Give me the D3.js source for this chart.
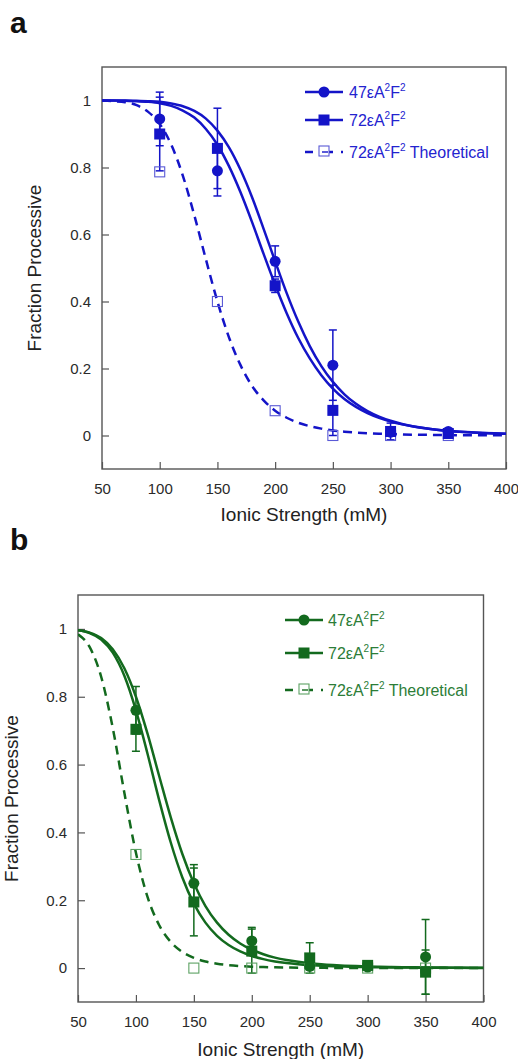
<!DOCTYPE html>
<html>
<head>
<meta charset="utf-8">
<script src="https://cdn.jsdelivr.net/npm/d3@7"></script>
<style>
body { margin: 0; background: #fff; }
text { font-family: Arial, "Liberation Sans", sans-serif; }
</style>
</head>
<body>
<svg class="canvas"></svg>
<script>

// measured ionic strengths (mM)
var ionic = [100, 150, 200, 250, 300, 350];

// panel a (blue)
var a47 = [0.945, 0.79, 0.52, 0.21, 0.01, 0.012];
var a47Err = [0.08, 0.075, 0.046, 0.105, 0.01, 0.008];
var a72 = [0.90, 0.857, 0.447, 0.075, 0.012, 0.006];
var a72Err = [0.11, 0.12, 0.02, 0.075, 0.025, 0.01];
var a72Theo = [0.787, 0.40, 0.074, 0.0, 0.0, 0.0];

// panel b (green)
var b47 = [0.76, 0.25, 0.08, 0.005, 0.003, 0.033];
var b47Err = [0.07, 0.055, 0.04, 0.01, 0.005, 0.11];
var b72 = [0.704, 0.195, 0.05, 0.03, 0.008, -0.012];
var b72Err = [0.065, 0.1, 0.065, 0.045, 0.008, 0.065];
var b72Theo = [0.335, 0.0, 0.0, 0.0, 0.0, 0.0];

// fitted curves, every 10 mM
var fitX = [50,60,70,80,90,100,110,120,130,140,150,160,170,180,190,200,210,220,
	230,240,250,260,270,280,290,300,310,320,330,340,350,360,370,380,390,400];

var a47Fit = [1,1,1,0.999,0.998,0.996,0.991,0.983,0.969,0.946,0.910,0.860,0.793,0.711,0.617,0.520,0.425,0.340,
	0.267,0.207,0.160,0.123,0.0945,0.0729,0.0564,0.0439,0.0344,0.027,0.0214,0.0171,0.0136,0.011,0.0089,0.0072,0.0059,0.0049];
var a72Fit = [1,1,0.999,0.998,0.996,0.992,0.984,0.970,0.949,0.915,0.868,0.804,0.726,0.637,0.542,0.450,0.365,0.291,
	0.230,0.180,0.140,0.109,0.0854,0.067,0.0527,0.0418,0.0332,0.0266,0.0214,0.0173,0.0141,0.0115,0.0095,0.0078,0.0065,0.0054];
var a72TheoFit = [1,0.998,0.995,0.986,0.966,0.930,0.868,0.776,0.657,0.526,0.400,0.293,0.210,0.148,0.105,0.0742,0.053,0.0382,
	0.0278,0.0205,0.0152,0.0115,0.0087,0.0067,0.0052,0.004,0.0032,0.0025,0.002,0.0016,0.0013,0.001,0.0009,0.0007,0.0006,0.0005];

var b47Fit = [0.996,0.989,0.973,0.940,0.884,0.800,0.691,0.567,0.445,0.337,0.250,0.183,0.134,0.0983,0.0726,0.0541,0.0407,0.0309,
	0.0237,0.0184,0.0143,0.0113,0.009,0.0072,0.0058,0.0047,0.0039,0.0032,0.0026,0.0022,0.0018,0.0015,0.0013,0.0011,0.0009,0.0008];
var b72Fit = [0.996,0.988,0.969,0.930,0.862,0.760,0.632,0.496,0.371,0.268,0.190,0.134,0.0951,0.0679,0.049,0.0357,0.0264,0.0197,
	0.0149,0.0114,0.0088,0.0068,0.0054,0.0043,0.0034,0.0028,0.0022,0.0018,0.0015,0.0013,0.0011,0.0009,0.0008,0.0007,0.0006,0.0005];
var b72TheoFit = [0.984,0.947,0.859,0.708,0.517,0.340,0.210,0.127,0.0773,0.0477,0.0301,0.0195,0.0129,0.0087,0.006,0.0042,0.003,0.0022,
	0.0017,0.0012,0.0009,0.0007,0.0005,0.0004,0.0003,0.0003,0.0002,0.0002,0.0002,0.0001,0.0001,0.0001,0.0001,0.0001,0.0001,0.0001];

var xTicks = [50, 100, 150, 200, 250, 300, 350, 400];
var yTicks = [0, 0.2, 0.4, 0.6, 0.8, 1];

var seriesNames = ["47", "72", "72"];

var width = 518,
	height = 1059;

var svg = d3.select(".canvas")
	.attr("width", width)
	.attr("height", height);

var panels = [
	{ id: "a", labelY: 33, left: 102, right: 506, top: 67, bottom: 469,
		color: "#1414c8", textColor: "#2323cf", openColor: "#5a5ad6",
		yTitleX: 41, xTitleY: 521,
		legX: 305, legTextX: 349, legRows: [92, 120, 152],
		s47: a47, e47: a47Err, s72: a72, e72: a72Err, theo: a72Theo,
		f47: a47Fit, f72: a72Fit, fTheo: a72TheoFit },
	{ id: "b", labelY: 550, left: 78, right: 483.5, top: 595, bottom: 1002,
		color: "#136a1e", textColor: "#2c7d37", openColor: "#5da264",
		yTitleX: 18, xTitleY: 1056,
		legX: 285, legTextX: 328, legRows: [620, 653, 690],
		s47: b47, e47: b47Err, s72: b72, e72: b72Err, theo: b72Theo,
		f47: b47Fit, f72: b72Fit, fTheo: b72TheoFit }
];

panels.forEach(drawPanel);

function drawPanel(p) {
	var g = svg.append("g");

	var x = d3.scaleLinear().domain([50, 400]).range([p.left, p.right]);
	var y = d3.scaleLinear().domain([-0.1, 1.1]).range([p.bottom, p.top]);

	// panel letter
	g.append("text")
		.attr("x", 10)
		.attr("y", p.labelY)
		.attr("font-size", 30)
		.attr("font-weight", "bold")
		.attr("fill", "#111")
		.text(p.id);

	// axes with inward ticks
	var xa = g.append("g")
		.attr("transform", "translate(0," + p.bottom + ")")
		.call(d3.axisBottom(x).tickValues(xTicks).tickSizeInner(-7).tickSizeOuter(0).tickPadding(14));
	var ya = g.append("g")
		.attr("transform", "translate(" + p.left + ",0)")
		.call(d3.axisLeft(y).tickValues(yTicks).tickSizeInner(-7).tickSizeOuter(0).tickPadding(11)
			.tickFormat(function(d) { return String(d); }));

	[xa, ya].forEach(function(a) {
		a.select(".domain").remove();
		a.selectAll(".tick line").attr("stroke", "#555").attr("stroke-width", 1.2);
		a.selectAll(".tick text")
			.attr("fill", "#2a2a2a")
			.attr("font-size", 15)
			.attr("font-family", "Arial, 'Liberation Sans', sans-serif");
	});

	// frame
	g.append("rect")
		.attr("x", p.left)
		.attr("y", p.top)
		.attr("width", p.right - p.left)
		.attr("height", p.bottom - p.top)
		.attr("fill", "none")
		.attr("stroke", "#555")
		.attr("stroke-width", 1.4);

	// axis titles
	g.append("text")
		.attr("x", (p.left + p.right) / 2)
		.attr("y", p.xTitleY)
		.attr("text-anchor", "middle")
		.attr("font-size", 19)
		.attr("fill", "#222")
		.text("Ionic Strength (mM)");

	g.append("text")
		.attr("transform", "translate(" + p.yTitleX + "," + ((p.top + p.bottom) / 2) + ") rotate(-90)")
		.attr("text-anchor", "middle")
		.attr("font-size", 19)
		.attr("fill", "#222")
		.text("Fraction Processive");

	// clip
	var clipId = "clip-" + p.id;
	svg.append("clipPath").attr("id", clipId)
		.append("rect")
		.attr("x", p.left)
		.attr("y", p.top)
		.attr("width", p.right - p.left)
		.attr("height", p.bottom - p.top);

	var plot = g.append("g").attr("clip-path", "url(#" + clipId + ")");

	var line = d3.line()
		.x(function(d) { return x(d[0]); })
		.y(function(d) { return y(d[1]); })
		.curve(d3.curveMonotoneX);

	var curves = [
		{ vals: p.fTheo, dash: "9,6" },
		{ vals: p.f72, dash: null },
		{ vals: p.f47, dash: null }
	];

	curves.forEach(function(c) {
		plot.append("path")
			.datum(fitX.map(function(v, i) { return [v, c.vals[i]]; }))
			.attr("d", line)
			.attr("fill", "none")
			.attr("stroke", p.color)
			.attr("stroke-width", 2.5)
			.attr("stroke-dasharray", c.dash);
	});

	// error bars
	[[p.s47, p.e47], [p.s72, p.e72]].forEach(function(se) {
		var eb = plot.selectAll(null).data(ionic).enter().append("g")
			.attr("stroke", p.color)
			.attr("stroke-width", 1.5);
		eb.append("line")
			.attr("x1", function(d) { return x(d); })
			.attr("x2", function(d) { return x(d); })
			.attr("y1", function(d, i) { return y(se[0][i] - se[1][i]); })
			.attr("y2", function(d, i) { return y(se[0][i] + se[1][i]); });
		[-1, 1].forEach(function(sgn) {
			eb.append("line")
				.attr("x1", function(d) { return x(d) - 4; })
				.attr("x2", function(d) { return x(d) + 4; })
				.attr("y1", function(d, i) { return y(se[0][i] + sgn * se[1][i]); })
				.attr("y2", function(d, i) { return y(se[0][i] + sgn * se[1][i]); });
		});
	});

	// theoretical open squares
	plot.selectAll(null).data(ionic).enter().append("rect")
		.attr("x", function(d) { return x(d) - 5; })
		.attr("y", function(d, i) { return y(p.theo[i]) - 5; })
		.attr("width", 10)
		.attr("height", 10)
		.attr("fill", "none")
		.attr("stroke", p.openColor)
		.attr("stroke-width", 1.1);

	// filled squares
	plot.selectAll(null).data(ionic).enter().append("rect")
		.attr("x", function(d) { return x(d) - 5.5; })
		.attr("y", function(d, i) { return y(p.s72[i]) - 5.5; })
		.attr("width", 11)
		.attr("height", 11)
		.attr("fill", p.color);

	// filled circles
	plot.selectAll(null).data(ionic).enter().append("circle")
		.attr("cx", function(d) { return x(d); })
		.attr("cy", function(d, i) { return y(p.s47[i]); })
		.attr("r", 5.5)
		.attr("fill", p.color);

	// legend
	var leg = g.append("g");
	var legLen = 38;
	p.legRows.forEach(function(ry, k) {
		var cx = p.legX + legLen / 2;
		leg.append("line")
			.attr("x1", p.legX)
			.attr("x2", p.legX + legLen)
			.attr("y1", ry)
			.attr("y2", ry)
			.attr("stroke", p.color)
			.attr("stroke-width", 2.5)
			.attr("stroke-dasharray", k == 2 ? "8,14,6" : null);
		if (k == 0) {
			leg.append("circle").attr("cx", cx).attr("cy", ry).attr("r", 5.5).attr("fill", p.color);
		} else if (k == 1) {
			leg.append("rect").attr("x", cx - 5.5).attr("y", ry - 5.5).attr("width", 11).attr("height", 11).attr("fill", p.color);
		} else {
			leg.append("rect").attr("x", cx - 5).attr("y", ry - 6).attr("width", 10).attr("height", 10)
				.attr("fill", "#fff").attr("stroke", p.openColor).attr("stroke-width", 1.1);
			leg.append("line").attr("x1", cx - 2).attr("x2", cx + 4).attr("y1", ry).attr("y2", ry)
				.attr("stroke", p.color).attr("stroke-width", 1.4);
		}

		var t = leg.append("text")
			.attr("x", p.legTextX)
			.attr("y", ry + 6)
			.attr("font-size", 16)
			.attr("fill", p.textColor);
		t.append("tspan").text(seriesNames[k] + "\u03b5A");
		t.append("tspan").attr("font-size", 10).attr("dy", -7).text("2");
		t.append("tspan").attr("dy", 7).text("F");
		t.append("tspan").attr("font-size", 10).attr("dy", -7).text("2");
		if (k == 2) t.append("tspan").attr("dy", 7).text(" Theoretical");
	});
}

</script>
</body>
</html>
